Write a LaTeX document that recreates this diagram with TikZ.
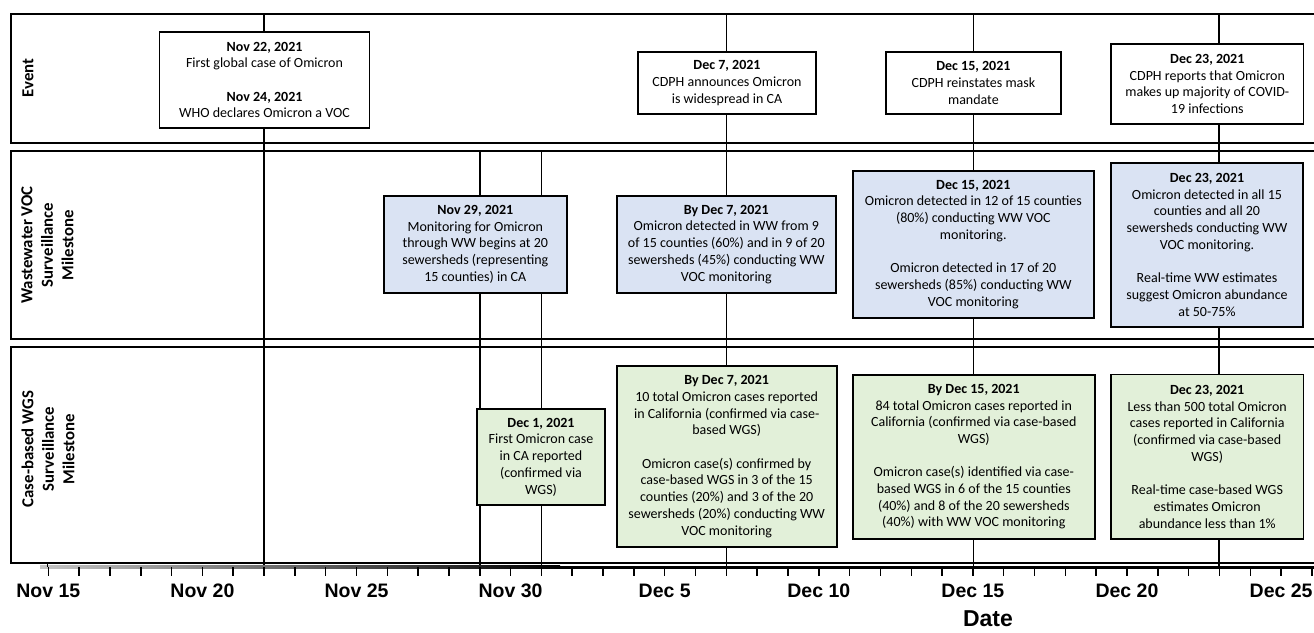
\documentclass[tikz,border=0pt]{standalone}
\usepackage{fontspec}
\setmainfont{Carlito}
\newfontfamily\axisfont{Liberation Sans}
\definecolor{wwblue}{HTML}{DAE3F3}
\definecolor{wgsgreen}{HTML}{E2F0D9}
\begin{document}
\begin{tikzpicture}[x=1pt,y=-1pt,
  rowbox/.style={draw=black, line width=1.8pt},
  tline/.style={draw=black, line width=1.7pt},
  tick/.style={draw=black, line width=1.5pt},
  boxbase/.style={draw=black, line width=1.7pt, align=center, inner sep=0pt,
    font=\fontsize{14}{16.7}\selectfont},
  evbox/.style={boxbase, fill=white},
  wwbox/.style={boxbase, fill=wwblue},
  wgsbox/.style={boxbase, fill=wgsgreen},
  rowlab/.style={rotate=90, align=center, inner sep=0pt,
    font=\bfseries\fontsize{16.8}{20.5}\selectfont},
  axlab/.style={inner sep=0pt, font=\axisfont\bfseries\fontsize{19.5}{20}\selectfont},
  axtitle/.style={inner sep=0pt, font=\axisfont\bfseries\fontsize{23}{24}\selectfont}
]
\useasboundingbox (0,0) rectangle (1314,632);
\begin{scope}
\clip (0,0) rectangle (1314,632);
% rows
\draw[rowbox] (11,14) rectangle (1330,142.7);
\draw[rowbox] (11,150.7) rectangle (1330,339);
\draw[rowbox] (11,346.7) rectangle (1330,563.3);
% row labels
\node[rowlab] (lev) at (28,78) {Event};
\node[rowlab] (lww) at (47.5,245) {Wastewater VOC\\Surveillance\\Milestone};
\node[rowlab] (lcs) at (48,449) {Case-based WGS\\Surveillance\\Milestone};
% timeline coordinates
\coordinate (t22) at (264.0,14);   \coordinate (a22) at (264.0,566);
\coordinate (t29) at (480.0,150.7); \coordinate (a29) at (480.0,566);
\coordinate (t01) at (541.6,150.7); \coordinate (a01) at (541.6,566);
\coordinate (t07) at (726.5,14);   \coordinate (a07) at (726.5,566);
\coordinate (t15) at (973.5,14);   \coordinate (a15) at (973.5,566);
\coordinate (t23) at (1219.3,14);  \coordinate (a23) at (1219.3,566);
\draw[tline] (t22) -- (a22);
\draw[tline] (t29) -- (a29);
\draw[tline] (t01) -- (a01);
\draw[tline] (t07) -- (a07);
\draw[tline] (t15) -- (a15);
\draw[tline] (t23) -- (a23);
% event boxes
\node[evbox, minimum width=210, minimum height=96] (e1) at (264.5,80)
  {\textbf{Nov 22, 2021}\\First global case of Omicron\\[16.7pt]\textbf{Nov 24, 2021}\\WHO declares Omicron a VOC};
\node[evbox, minimum width=178.5, minimum height=62] (e2) at (727,83)
  {\textbf{Dec 7, 2021}\\CDPH announces Omicron\\is widespread in CA};
\node[evbox, minimum width=175, minimum height=62] (e3) at (973.4,83)
  {\textbf{Dec 15, 2021}\\CDPH reinstates mask\\mandate};
\node[evbox, minimum width=192.6, minimum height=80] (e4) at (1207.3,84)
  {\textbf{Dec 23, 2021}\\CDPH reports that Omicron\\makes up majority of COVID-\\19 infections};
% wastewater boxes
\node[wwbox, minimum width=182.7, minimum height=96.7] (w1) at (475.3,244.3)
  {\textbf{Nov 29, 2021}\\Monitoring for Omicron\\through WW begins at 20\\sewersheds (representing\\15 counties) in CA};
\node[wwbox, minimum width=219.3, minimum height=96.7] (w2) at (726.3,244.3)
  {\textbf{By Dec 7, 2021}\\Omicron detected in WW from 9\\of 15 counties (60\%) and in 9 of 20\\sewersheds (45\%) conducting WW\\VOC monitoring};
\node[wwbox, minimum width=241.3, minimum height=147] (w3) at (973.3,244.2)
  {\textbf{Dec 15, 2021}\\Omicron detected in 12 of 15 counties\\(80\%) conducting WW VOC\\monitoring.\\[16.7pt]Omicron detected in 17 of 20\\sewersheds (85\%) conducting WW\\VOC monitoring};
\node[wwbox, minimum width=192.6, minimum height=164] (w4) at (1207,244.7)
  {\textbf{Dec 23, 2021}\\Omicron detected in all 15\\counties and all 20\\sewersheds conducting WW\\VOC monitoring.\\[16.7pt]Real-time WW estimates\\suggest Omicron abundance\\at 50-75\%};
% case-based WGS boxes
\node[wgsbox, minimum width=128, minimum height=96] (c1) at (541,457)
  {\textbf{Dec 1, 2021}\\First Omicron case\\in CA reported\\(confirmed via\\WGS)};
\node[wgsbox, minimum width=220, minimum height=181.6] (c2) at (726.7,456.5)
  {\textbf{By Dec 7, 2021}\\10 total Omicron cases reported\\in California (confirmed via case-\\based WGS)\\[16.7pt]Omicron case(s) confirmed by\\case-based WGS in 3 of the 15\\counties (20\%) and 3 of the 20\\sewersheds (20\%) conducting WW\\VOC monitoring};
\node[wgsbox, minimum width=242.3, minimum height=163.7] (c3) at (973.8,456.8)
  {\textbf{By Dec 15, 2021}\\84 total Omicron cases reported in\\California (confirmed via case-based\\WGS)\\[16.7pt]Omicron case(s) identified via case-\\based WGS in 6 of the 15 counties\\(40\%) and 8 of the 20 sewersheds\\(40\%) with WW VOC monitoring};
\node[wgsbox, minimum width=192.3, minimum height=164.7] (c4) at (1207.2,456.7)
  {\textbf{Dec 23, 2021}\\Less than 500 total Omicron\\cases reported in California\\(confirmed via case-based\\WGS)\\[16.7pt]Real-time case-based WGS\\estimates Omicron\\abundance less than 1\%};
% axis
\coordinate (ax0) at (40,567);
\coordinate (axm) at (560,567);
\coordinate (ax1) at (1330,567);
\shade[left color=gray!45, right color=black] (40,565.8) rectangle (560,568.2);
\draw[line width=3pt] (axm) -- (ax1);
\draw[tick] (47.7,563) -- (47.7,567);
\foreach \d in {0,...,41}{
  \draw[tick] ({48.3+30.82*\d},567) -- ({48.3+30.82*\d},575.5);
}
\foreach \d/\lab in {0/Nov 15,5/Nov 20,10/Nov 25,15/Nov 30,20/Dec 5,25/Dec 10,30/Dec 15,35/Dec 20,40/Dec 25}{
  \node[axlab] (lab\d) at ({48.3+30.82*\d},590.5) {\lab};
}
\node[axtitle] (axt) at (988,619) {Date};
\end{scope}
\end{tikzpicture}
\end{document}
